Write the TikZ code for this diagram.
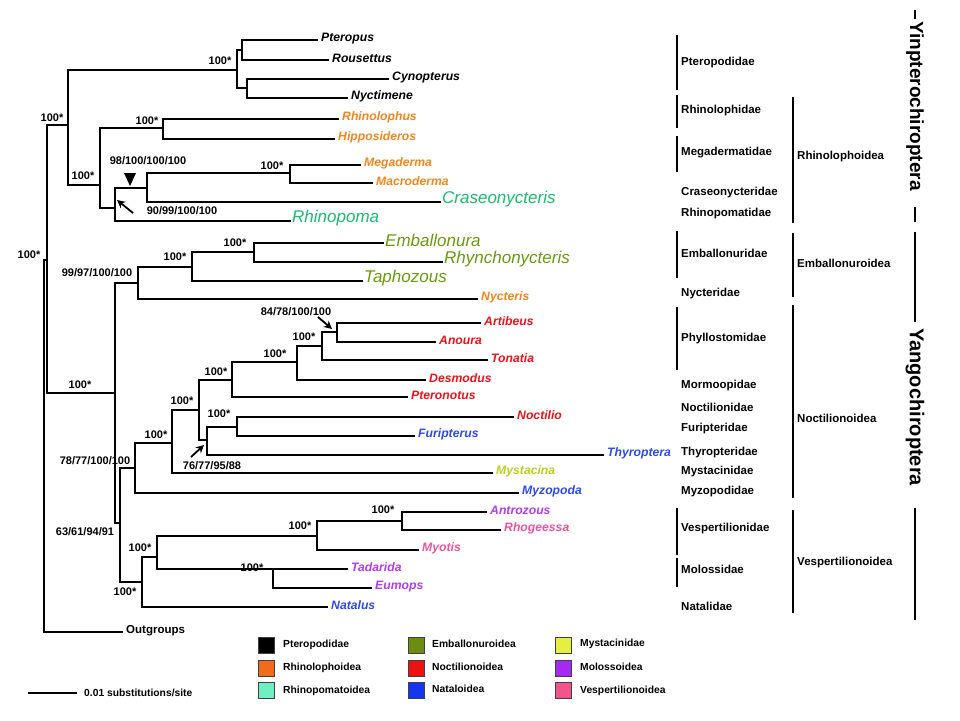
\documentclass[tikz,border=0pt]{standalone}
\usepackage{fontspec}
\setmainfont{Liberation Sans}
\usetikzlibrary{arrows.meta}
\definecolor{cor}{HTML}{F0861E}
\definecolor{cred}{HTML}{E8141C}
\definecolor{cblue}{HTML}{2E4BE6}
\definecolor{cyel}{HTML}{BCCF22}
\definecolor{cpur}{HTML}{B03EE6}
\definecolor{cpink}{HTML}{E8579C}
\definecolor{cgreen}{HTML}{1DBA70}
\definecolor{colive}{HTML}{6A9A12}
\definecolor{lgor}{HTML}{F26B1D}
\definecolor{lgmint}{HTML}{6EF0C2}
\definecolor{lgolive}{HTML}{6B8E12}
\definecolor{lgred}{HTML}{EE1111}
\definecolor{lgblue}{HTML}{1436EE}
\definecolor{lgyel}{HTML}{E6EE44}
\definecolor{lgpur}{HTML}{A52AF0}
\definecolor{lgpink}{HTML}{F2548E}
\begin{document}
\begin{tikzpicture}[x=1pt,y=-1pt,
  br/.style={line width=1.8pt,line cap=rect},
  tipb/.style={anchor=west,inner sep=0pt,xshift=4pt,yshift=1.5pt,font=\fontsize{12.2}{14}\selectfont\bfseries\itshape},
  ovl/.style={anchor=west,inner sep=0pt,xshift=2pt,yshift=3pt,font=\fontsize{17}{19}\selectfont\itshape},
  supp/.style={inner sep=0pt,font=\fontsize{11}{13}\selectfont\bfseries},
  fam/.style={anchor=west,inner sep=0pt,font=\fontsize{11.5}{13}\selectfont\bfseries},
  gbar/.style={line width=2.5pt},
  lg/.style={anchor=west,inner sep=0pt,font=\fontsize{10.3}{12}\selectfont\bfseries},
  sq/.style={draw=black!75,line width=0.8pt,minimum size=16pt,inner sep=0pt},
  ann/.style={-{Stealth[length=8pt,width=8pt]},line width=1.8pt}
]
\useasboundingbox[fill=white] (0,0) rectangle (960,720);

% internal nodes
\coordinate (R0) at (44,260);
\coordinate (Chi) at (47,260);
\coordinate (Yin) at (68,125);
\coordinate (Pter) at (237,70);
\coordinate (PR) at (242,50);
\coordinate (CN) at (247,88);
\coordinate (Rhl) at (100,185);
\coordinate (Rhi) at (163,128);
\coordinate (RB) at (115,208);
\coordinate (RC) at (147,188);
\coordinate (Meg) at (290,173);
\coordinate (Yango) at (115,393);
\coordinate (Emb) at (138,283);
\coordinate (EE) at (192,267);
\coordinate (FF) at (254,252);
\coordinate (NV) at (120,523);
\coordinate (Noc) at (135,468);
\coordinate (HH) at (172,443);
\coordinate (II) at (199,410);
\coordinate (KK) at (232,380);
\coordinate (LL) at (297,362);
\coordinate (MM) at (322,346);
\coordinate (NN) at (337,332);
\coordinate (TT) at (207,440);
\coordinate (JJ) at (237,427);
\coordinate (Ves) at (142,582);
\coordinate (PP) at (157,557);
\coordinate (QQ) at (317,536);
\coordinate (RR) at (402,521);
\coordinate (SS) at (273,569);

% tip ends
\coordinate (tPteropus) at (317,40);
\coordinate (tRousettus) at (328,60);
\coordinate (tCynopterus) at (388,79);
\coordinate (tNyctimene) at (347,98);
\coordinate (tRhinolophus) at (338,119);
\coordinate (tHipposideros) at (334,139);
\coordinate (tMegaderma) at (360,165);
\coordinate (tMacroderma) at (372,183);
\coordinate (tCraseo) at (440,202);
\coordinate (tRhinopoma) at (290,221);
\coordinate (tEmballonura) at (383,243);
\coordinate (tRhyncho) at (442,262);
\coordinate (tTaphozous) at (362,281);
\coordinate (tNycteris) at (477,299);
\coordinate (tArtibeus) at (480,323);
\coordinate (tAnoura) at (435,342);
\coordinate (tTonatia) at (487,360);
\coordinate (tDesmodus) at (425,380);
\coordinate (tPteronotus) at (407,397);
\coordinate (tNoctilio) at (513,417);
\coordinate (tFuripterus) at (414,436);
\coordinate (tThyroptera) at (603,455);
\coordinate (tMystacina) at (492,473);
\coordinate (tMyzopoda) at (518,493);
\coordinate (tAntrozous) at (486,512);
\coordinate (tRhogeessa) at (500,530);
\coordinate (tMyotis) at (418,550);
\coordinate (tTadarida) at (347,569);
\coordinate (tEumops) at (371,588);
\coordinate (tNatalus) at (327,607);
\coordinate (tOut) at (122,632);

% branches
\draw[br] (R0) |- (Chi);
\draw[br] (R0) |- (tOut);
\draw[br] (Chi) |- (Yin);
\draw[br] (Chi) |- (Yango);
\draw[br] (Yin) |- (Pter);
\draw[br] (Yin) |- (Rhl);
\draw[br] (Pter) |- (PR);
\draw[br] (Pter) |- (CN);
\draw[br] (PR) |- (tPteropus);
\draw[br] (PR) |- (tRousettus);
\draw[br] (CN) |- (tCynopterus);
\draw[br] (CN) |- (tNyctimene);
\draw[br] (Rhl) |- (Rhi);
\draw[br,line width=2.3pt] (Rhl) |- (RB);
\draw[br] (Rhi) |- (tRhinolophus);
\draw[br] (Rhi) |- (tHipposideros);
\draw[br,line width=2.3pt] (RB) |- (RC);
\draw[br] (RB) |- (tRhinopoma);
\draw[br] (RC) |- (Meg);
\draw[br] (RC) |- (tCraseo);
\draw[br] (Meg) |- (tMegaderma);
\draw[br] (Meg) |- (tMacroderma);
\draw[br] (Yango) |- (Emb);
\draw[br] (Yango) |- (NV);
\draw[br] (Emb) |- (EE);
\draw[br] (Emb) |- (tNycteris);
\draw[br] (EE) |- (FF);
\draw[br] (EE) |- (tTaphozous);
\draw[br] (FF) |- (tEmballonura);
\draw[br] (FF) |- (tRhyncho);
\draw[br] (NV) |- (Noc);
\draw[br] (NV) |- (Ves);
\draw[br] (Noc) |- (HH);
\draw[br] (Noc) |- (tMyzopoda);
\draw[br] (HH) |- (II);
\draw[br] (HH) |- (tMystacina);
\draw[br] (II) |- (KK);
\draw[br] (II) |- (TT);
\draw[br] (KK) |- (LL);
\draw[br] (KK) |- (tPteronotus);
\draw[br] (LL) |- (MM);
\draw[br] (LL) |- (tDesmodus);
\draw[br] (MM) |- (NN);
\draw[br] (MM) |- (tTonatia);
\draw[br] (NN) |- (tArtibeus);
\draw[br] (NN) |- (tAnoura);
\draw[br] (TT) |- (JJ);
\draw[br] (TT) |- (tThyroptera);
\draw[br] (JJ) |- (tNoctilio);
\draw[br] (JJ) |- (tFuripterus);
\draw[br] (Ves) |- (PP);
\draw[br] (Ves) |- (tNatalus);
\draw[br] (PP) |- (QQ);
\draw[br] (PP) |- (SS);
\draw[br] (QQ) |- (RR);
\draw[br] (QQ) |- (tMyotis);
\draw[br] (RR) |- (tAntrozous);
\draw[br] (RR) |- (tRhogeessa);
\draw[br] (SS) |- (tTadarida);
\draw[br] (SS) |- (tEumops);

% tip labels
\node[tipb] (Pteropus) at (tPteropus) {Pteropus};
\node[tipb] (Rousettus) at (tRousettus) {Rousettus};
\node[tipb] (Cynopterus) at (tCynopterus) {Cynopterus};
\node[tipb] (Nyctimene) at (tNyctimene) {Nyctimene};
\node[tipb,text=cor] (Rhinolophus) at (tRhinolophus) {Rhinolophus};
\node[tipb,text=cor] (Hipposideros) at (tHipposideros) {Hipposideros};
\node[tipb,text=cor] (Megaderma) at (tMegaderma) {Megaderma};
\node[tipb,text=cor] (Macroderma) at (tMacroderma) {Macroderma};
\node[ovl,text=cgreen] (Craseonycteris) at (tCraseo) {Craseonycteris};
\node[ovl,text=cgreen] (Rhinopoma) at (tRhinopoma) {Rhinopoma};
\node[ovl,text=colive] (Emballonura) at (tEmballonura) {Emballonura};
\node[ovl,text=colive] (Rhynchonycteris) at (tRhyncho) {Rhynchonycteris};
\node[ovl,text=colive] (Taphozous) at (tTaphozous) {Taphozous};
\node[tipb,text=cor] (Nycteris) at (tNycteris) {Nycteris};
\node[tipb,text=cred] (Artibeus) at (tArtibeus) {Artibeus};
\node[tipb,text=cred] (Anoura) at (tAnoura) {Anoura};
\node[tipb,text=cred] (Tonatia) at (tTonatia) {Tonatia};
\node[tipb,text=cred] (Desmodus) at (tDesmodus) {Desmodus};
\node[tipb,text=cred] (Pteronotus) at (tPteronotus) {Pteronotus};
\node[tipb,text=cred] (Noctilio) at (tNoctilio) {Noctilio};
\node[tipb,text=cblue] (Furipterus) at (tFuripterus) {Furipterus};
\node[tipb,text=cblue] (Thyroptera) at (tThyroptera) {Thyroptera};
\node[tipb,text=cyel] (Mystacina) at (tMystacina) {Mystacina};
\node[tipb,text=cblue] (Myzopoda) at (tMyzopoda) {Myzopoda};
\node[tipb,text=cpur] (Antrozous) at (tAntrozous) {Antrozous};
\node[tipb,text=cpink] (Rhogeessa) at (tRhogeessa) {Rhogeessa};
\node[tipb,text=cpink] (Myotis) at (tMyotis) {Myotis};
\node[tipb,text=cpur] (Tadarida) at (tTadarida) {Tadarida};
\node[tipb,text=cpur] (Eumops) at (tEumops) {Eumops};
\node[tipb,text=cblue] (Natalus) at (tNatalus) {Natalus};
\node[tipb,font=\fontsize{11.5}{13}\selectfont\bfseries] (Outgroups) at (tOut) {Outgroups};

% support values
\node[supp] (s1) at (220,61) {100*};
\node[supp] (s2) at (52,118) {100*};
\node[supp] (s3) at (147,121) {100*};
\node[supp] (s4) at (83,176) {100*};
\node[supp] (s5) at (148,161) {98/100/100/100};
\node[supp] (s6) at (272,166) {100*};
\node[supp] (s7) at (182,211) {90/99/100/100};
\node[supp] (s8) at (29,255) {100*};
\node[supp] (s9) at (97,273) {99/97/100/100};
\node[supp] (s10) at (175,257) {100*};
\node[supp] (s11) at (235,243) {100*};
\node[supp] (s12) at (296,312) {84/78/100/100};
\node[supp] (s13) at (304,337) {100*};
\node[supp] (s14) at (275,354) {100*};
\node[supp] (s15) at (216,372) {100*};
\node[supp] (s16) at (182,401) {100*};
\node[supp] (s17) at (219,414) {100*};
\node[supp] (s18) at (156,435) {100*};
\node[supp] (s19) at (212,466) {76/77/95/88};
\node[supp] (s20) at (95,461) {78/77/100/100};
\node[supp] (s21) at (80,385) {100*};
\node[supp] (s22) at (85,532) {63/61/94/91};
\node[supp] (s23) at (383,510) {100*};
\node[supp] (s24) at (300,526) {100*};
\node[supp] (s25) at (140,548) {100*};
\node[supp] (s26) at (252,568) {100*};
\node[supp] (s27) at (125,592) {100*};

% markers
\fill (124,173) -- (136,173) -- (130,186) -- cycle;
\coordinate (a1t) at (133,213); \coordinate (a1h) at (117,200);
\draw[ann] (a1t) -- (a1h);
\coordinate (a2t) at (191,457); \coordinate (a2h) at (204,445);
\draw[ann] (a2t) -- (a2h);
\coordinate (a3t) at (318,317); \coordinate (a3h) at (332,329);
\draw[ann] (a3t) -- (a3h);

% family labels
\node[fam] (f1) at (681,63) {Pteropodidae};
\node[fam] (f2) at (681,111) {Rhinolophidae};
\node[fam] (f3) at (681,153) {Megadermatidae};
\node[fam] (f4) at (681,193) {Craseonycteridae};
\node[fam] (f5) at (681,214) {Rhinopomatidae};
\node[fam] (f6) at (681,253) {Emballonuridae};
\node[fam] (f7) at (681,294) {Nycteridae};
\node[fam] (f8) at (681,339) {Phyllostomidae};
\node[fam] (f9) at (681,386) {Mormoopidae};
\node[fam] (f10) at (681,407) {Noctilionidae};
\node[fam] (f11) at (681,429) {Furipteridae};
\node[fam] (f12) at (681,453) {Thyropteridae};
\node[fam] (f13) at (681,472) {Mystacinidae};
\node[fam] (f14) at (681,492) {Myzopodidae};
\node[fam] (f15) at (681,529) {Vespertilionidae};
\node[fam] (f16) at (681,569) {Molossidae};
\node[fam] (f17) at (681,606) {Natalidae};
\draw[gbar] (677,35) -- (677,90);
\draw[gbar] (677,95) -- (677,128);
\draw[gbar] (677,136) -- (677,172);
\draw[gbar] (677,231) -- (677,278);
\draw[gbar] (677,307) -- (677,370);
\draw[gbar] (677,508) -- (677,555);
\draw[gbar] (677,558) -- (677,587);

% superfamilies
\node[fam] (g1) at (797,157) {Rhinolophoidea};
\node[fam] (g2) at (797,263) {Emballonuroidea};
\node[fam] (g3) at (797,418) {Noctilionoidea};
\node[fam] (g4) at (797,563) {Vespertilionoidea};
\draw[gbar] (793,97) -- (793,223);
\draw[gbar] (793,233) -- (793,297);
\draw[gbar] (793,305) -- (793,498);
\draw[gbar] (793,510) -- (793,613);

% suborders
\draw[gbar] (915,10) -- (915,19);
\node[rotate=-90,inner sep=0pt,font=\fontsize{19}{21}\selectfont\bfseries] (Yinp) at (915,106) {Yinpterochiroptera};
\draw[gbar] (915,207) -- (915,222);
\draw[gbar] (915,232) -- (915,322);
\node[rotate=-90,inner sep=0pt,font=\fontsize{20}{22}\selectfont\bfseries] (Yang) at (915,407) {Yangochiroptera};
\draw[gbar] (915,508) -- (915,620);

% legend
\node[sq,fill=black] (q1) at (266.5,645) {};
\node[sq,fill=lgor] (q2) at (266.5,668) {};
\node[sq,fill=lgmint] (q3) at (266.5,690) {};
\node[sq,fill=lgolive] (q4) at (416.5,645) {};
\node[sq,fill=lgred] (q5) at (416.5,668) {};
\node[sq,fill=lgblue] (q6) at (416.5,690) {};
\node[sq,fill=lgyel] (q7) at (563.5,645) {};
\node[sq,fill=lgpur] (q8) at (563.5,668) {};
\node[sq,fill=lgpink] (q9) at (563.5,690) {};
\node[lg] (l1) at (283,645) {Pteropodidae};
\node[lg] (l2) at (283,668) {Rhinolophoidea};
\node[lg] (l3) at (283,691) {Rhinopomatoidea};
\node[lg] (l4) at (432,644) {Emballonuroidea};
\node[lg] (l5) at (432,667) {Noctilionoidea};
\node[lg] (l6) at (432,689) {Nataloidea};
\node[lg] (l7) at (580,644) {Mystacinidae};
\node[lg] (l8) at (580,667) {Molossoidea};
\node[lg] (l9) at (580,691) {Vespertilionoidea};

% scale bar
\coordinate (sb1) at (28,693); \coordinate (sb2) at (77,693);
\draw[line width=1.6pt] (sb1) -- (sb2);
\node[lg] (sbt) at (84,693) {0.01 substitutions/site};
\end{tikzpicture}
\end{document}
